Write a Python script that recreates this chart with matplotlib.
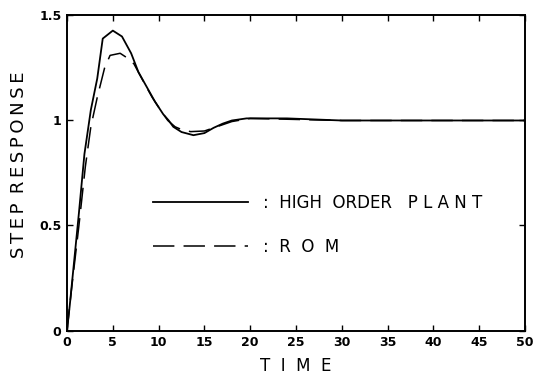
import numpy as np
import matplotlib
matplotlib.use("Agg")
import matplotlib.pyplot as plt

# step response of the high order plant
t_plant = [0, 0.3, 1.3, 1.9, 2.6, 3.3, 3.9, 5.0, 6.0, 7.0, 7.8, 8.7, 9.6,
           10.5, 11.1, 11.6, 12.5, 13.8, 15.0, 16.0, 17.0, 18.0, 19.6,
           24.0, 27.0, 30.0, 50.0]
y_plant = [0, 0.12, 0.56, 0.84, 1.05, 1.20, 1.39, 1.428, 1.40, 1.32, 1.23,
           1.16, 1.09, 1.03, 1.0, 0.97, 0.945, 0.93, 0.94, 0.965, 0.985,
           1.0, 1.01, 1.01, 1.005, 1.0, 1.0]

# reduced order model
t_rom = [0, 0.5, 1.3, 2.0, 2.6, 3.3, 4.1, 4.7, 5.8, 6.5, 7.3, 8.35, 9.3,
         10.2, 11.0, 11.8, 12.6, 13.5, 15.0, 16.0, 17.0, 18.0, 20.0, 25.0,
         30.0, 50.0]
y_rom = [0, 0.20, 0.50, 0.78, 0.97, 1.11, 1.25, 1.31, 1.32, 1.30, 1.27,
         1.185, 1.11, 1.05, 1.0, 0.97, 0.955, 0.947, 0.95, 0.965, 0.98,
         0.995, 1.01, 1.005, 1.0, 1.0]

xticks = [0, 5, 10, 15, 20, 25, 30, 35, 40, 45, 50]
yticks = [0, 0.5, 1, 1.5]
ytick_labels = ["0", "0.5", "1", "1.5"]

fam = ["Liberation Sans Narrow", "DejaVu Sans"]
tfam = ["DejaVu Sans"]
th = "\u2009"  # thin space for the spread-out axis title

fig = plt.figure(figsize=(5.37, 3.74), dpi=100)
ax = fig.add_axes([0.1248, 0.1163, 0.8529, 0.8423])

ax.plot(t_plant, y_plant, color="black", lw=1.3,
        label=":  HIGH  ORDER   P L A N T")
ax.plot(t_rom, y_rom, color="black", lw=1.1, dashes=(14, 6),
        label=":  R  O  M")

ax.set_xlim(0, 50)
ax.set_ylim(0, 1.5)
ax.set_xticks(xticks)
ax.set_yticks(yticks)
ax.set_yticklabels(ytick_labels)
ax.tick_params(direction="in", length=4, width=1, top=True, right=True,
               labelsize=9, pad=4)
for lab in ax.get_xticklabels() + ax.get_yticklabels():
    lab.set_family(fam)
    lab.set_fontweight("bold")
for s in ax.spines.values():
    s.set_linewidth(1.4)

ylab = th.join("STEP") + th + " " + th.join("RESPONSE")
ax.set_ylabel(ylab, family=tfam, fontsize=13, labelpad=5)
ax.yaxis.set_label_coords(-0.085, 0.525)
ax.text(0.5, -0.085, "T  I  M  E", transform=ax.transAxes, family=tfam,
        fontsize=12, ha="center", va="top")

leg = ax.legend(loc="center left", bbox_to_anchor=(0.188, 0.335),
                frameon=False, borderpad=0, borderaxespad=0,
                handlelength=5.7, handletextpad=0.9, labelspacing=1.6,
                prop={"family": tfam, "size": 12})

fig.savefig("out.png", dpi=100, facecolor="white")
